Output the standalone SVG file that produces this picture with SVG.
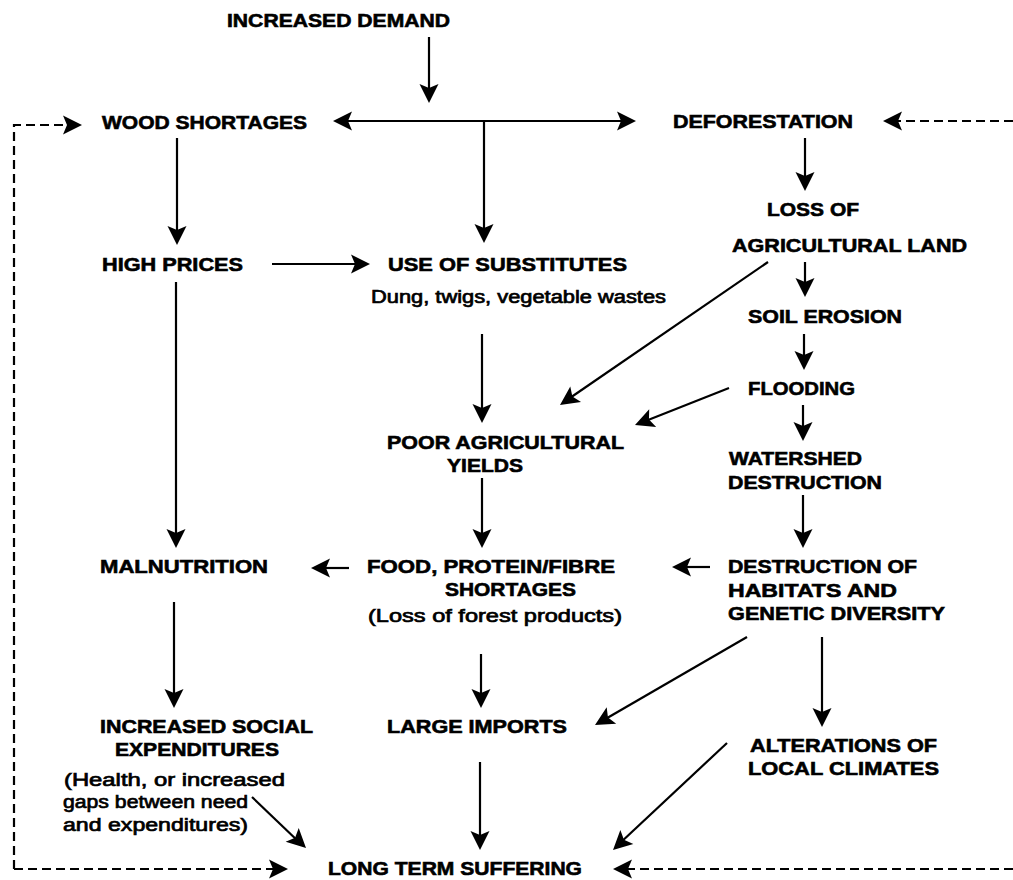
<svg xmlns="http://www.w3.org/2000/svg" xmlns:xlink="http://www.w3.org/1999/xlink" width="1013" height="880" viewBox="0 0 1013 880">
  <style>
    .t { font-family: "Liberation Sans", Arial, sans-serif; font-weight: bold; font-size: 19px; fill: #000; stroke: #000; stroke-width: 0.6; }
    .s { font-family: "Liberation Sans", Arial, sans-serif; font-weight: normal; font-size: 18px; fill: #000; stroke: #000; stroke-width: 0.7; }
    .c { fill: none; stroke: #000; stroke-width: 2.2; }
    .d { fill: none; stroke: #000; stroke-width: 2.2; stroke-dasharray: 9 5; }
    .h { fill: #000; }
  </style>
  <defs>
    <!-- arrowhead, tip at the origin, pointing along +x -->
    <path id="head" d="M0,0 L-19,-9.5 L-15,0 L-19,9.5 Z"/>
  </defs>
  <rect width="1013" height="880" fill="#fff"/>

  <!-- connectors -->
  <g id="connectors">
    <path class="c" d="M429,37 L429,95"/>
    <path class="c" d="M341,121 L628,121"/>
    <path class="c" d="M484,121 L484,235"/>
    <path class="c" d="M177,138 L177,237"/>
    <path class="c" d="M272,264 L362,264"/>
    <path class="c" d="M176,282 L176,540"/>
    <path class="c" d="M482,334 L482,415"/>
    <path class="c" d="M482,478 L482,540"/>
    <path class="c" d="M349,568 L319,568"/>
    <path class="c" d="M710,567 L680,567"/>
    <path class="c" d="M805,138 L805,183"/>
    <path class="c" d="M805,262 L805,289"/>
    <path class="c" d="M768,262 L567,400"/>
    <path class="c" d="M804,334 L804,362"/>
    <path class="c" d="M729,388 L643,422"/>
    <path class="c" d="M803,405 L803,433"/>
    <path class="c" d="M803,495 L803,540"/>
    <path class="c" d="M174,602 L174,700"/>
    <path class="c" d="M481,654 L481,700"/>
    <path class="c" d="M480,762 L480,842"/>
    <path class="c" d="M747,637 L602,721"/>
    <path class="c" d="M822,637 L822,719"/>
    <path class="c" d="M727,743 L619,844"/>
    <path class="c" d="M252,797 L300,843"/>
    <!-- feedback loops -->
    <path class="d" d="M14,869 L14,125 L74,125"/>
    <path class="d" d="M14,869 L280,869"/>
    <path class="d" d="M1013,121 L891,121"/>
    <path class="d" d="M1013,869 L621,869"/>

    <g class="h">
      <use xlink:href="#head" href="#head" transform="translate(429,103) rotate(90)"/>
      <use xlink:href="#head" href="#head" transform="translate(333,121) rotate(180)"/>
      <use xlink:href="#head" href="#head" transform="translate(636,121)"/>
      <use xlink:href="#head" href="#head" transform="translate(484,243) rotate(90)"/>
      <use xlink:href="#head" href="#head" transform="translate(177,245) rotate(90)"/>
      <use xlink:href="#head" href="#head" transform="translate(370,264)"/>
      <use xlink:href="#head" href="#head" transform="translate(176,548) rotate(90)"/>
      <use xlink:href="#head" href="#head" transform="translate(482,423) rotate(90)"/>
      <use xlink:href="#head" href="#head" transform="translate(482,548) rotate(90)"/>
      <use xlink:href="#head" href="#head" transform="translate(311,568) rotate(180)"/>
      <use xlink:href="#head" href="#head" transform="translate(672,567) rotate(180)"/>
      <use xlink:href="#head" href="#head" transform="translate(805,191) rotate(90)"/>
      <use xlink:href="#head" href="#head" transform="translate(805,297) rotate(90)"/>
      <use xlink:href="#head" href="#head" transform="translate(560,405) rotate(145.5)"/>
      <use xlink:href="#head" href="#head" transform="translate(804,370) rotate(90)"/>
      <use xlink:href="#head" href="#head" transform="translate(635,425) rotate(158.5)"/>
      <use xlink:href="#head" href="#head" transform="translate(803,441) rotate(90)"/>
      <use xlink:href="#head" href="#head" transform="translate(803,548) rotate(90)"/>
      <use xlink:href="#head" href="#head" transform="translate(174,708) rotate(90)"/>
      <use xlink:href="#head" href="#head" transform="translate(481,708) rotate(90)"/>
      <use xlink:href="#head" href="#head" transform="translate(480,850) rotate(90)"/>
      <use xlink:href="#head" href="#head" transform="translate(595,725) rotate(149.9)"/>
      <use xlink:href="#head" href="#head" transform="translate(822,727) rotate(90)"/>
      <use xlink:href="#head" href="#head" transform="translate(613,850) rotate(136.8)"/>
      <use xlink:href="#head" href="#head" transform="translate(306,848) rotate(43.4)"/>
      <use xlink:href="#head" href="#head" transform="translate(82,125)"/>
      <use xlink:href="#head" href="#head" transform="translate(288,869)"/>
      <use xlink:href="#head" href="#head" transform="translate(883,121) rotate(180)"/>
      <use xlink:href="#head" href="#head" transform="translate(613,869) rotate(180)"/>
    </g>
  </g>

  <!-- nodes -->
  <g id="increased-demand"><text class="t" x="227" y="27" textLength="223" lengthAdjust="spacingAndGlyphs">INCREASED DEMAND</text></g>
  <g id="wood-shortages"><text class="t" x="102" y="129" textLength="205" lengthAdjust="spacingAndGlyphs">WOOD SHORTAGES</text></g>
  <g id="deforestation"><text class="t" x="673" y="128" textLength="180" lengthAdjust="spacingAndGlyphs">DEFORESTATION</text></g>
  <g id="loss-of-land">
    <text class="t" x="767" y="216" textLength="92" lengthAdjust="spacingAndGlyphs">LOSS OF</text>
    <text class="t" x="732" y="252" textLength="235" lengthAdjust="spacingAndGlyphs">AGRICULTURAL LAND</text>
  </g>
  <g id="high-prices"><text class="t" x="102" y="271" textLength="141" lengthAdjust="spacingAndGlyphs">HIGH PRICES</text></g>
  <g id="use-of-substitutes">
    <text class="t" x="388" y="271" textLength="239" lengthAdjust="spacingAndGlyphs">USE OF SUBSTITUTES</text>
    <text class="s" x="371" y="303" textLength="295" lengthAdjust="spacingAndGlyphs">Dung, twigs, vegetable wastes</text>
  </g>
  <g id="soil-erosion"><text class="t" x="748" y="323" textLength="154" lengthAdjust="spacingAndGlyphs">SOIL EROSION</text></g>
  <g id="flooding"><text class="t" x="748" y="395" textLength="107" lengthAdjust="spacingAndGlyphs">FLOODING</text></g>
  <g id="poor-yields">
    <text class="t" x="387" y="449" textLength="237" lengthAdjust="spacingAndGlyphs">POOR AGRICULTURAL</text>
    <text class="t" x="447" y="472" textLength="76" lengthAdjust="spacingAndGlyphs">YIELDS</text>
  </g>
  <g id="watershed">
    <text class="t" x="729" y="465" textLength="133" lengthAdjust="spacingAndGlyphs">WATERSHED</text>
    <text class="t" x="728" y="489" textLength="154" lengthAdjust="spacingAndGlyphs">DESTRUCTION</text>
  </g>
  <g id="malnutrition"><text class="t" x="100" y="573" textLength="168" lengthAdjust="spacingAndGlyphs">MALNUTRITION</text></g>
  <g id="food-shortages">
    <text class="t" x="367" y="573" textLength="248" lengthAdjust="spacingAndGlyphs">FOOD, PROTEIN/FIBRE</text>
    <text class="t" x="445" y="596" textLength="131" lengthAdjust="spacingAndGlyphs">SHORTAGES</text>
    <text class="s" x="368" y="622" textLength="254" lengthAdjust="spacingAndGlyphs">(Loss of forest products)</text>
  </g>
  <g id="habitat-destruction">
    <text class="t" x="728" y="573" textLength="189" lengthAdjust="spacingAndGlyphs">DESTRUCTION OF</text>
    <text class="t" x="728" y="597" textLength="169" lengthAdjust="spacingAndGlyphs">HABITATS AND</text>
    <text class="t" x="728" y="620" textLength="217" lengthAdjust="spacingAndGlyphs">GENETIC DIVERSITY</text>
  </g>
  <g id="social-expenditures">
    <text class="t" x="100" y="733" textLength="213" lengthAdjust="spacingAndGlyphs">INCREASED SOCIAL</text>
    <text class="t" x="115" y="756" textLength="164" lengthAdjust="spacingAndGlyphs">EXPENDITURES</text>
    <text class="s" x="64" y="786" textLength="221" lengthAdjust="spacingAndGlyphs">(Health, or increased</text>
    <text class="s" x="63" y="808" textLength="185" lengthAdjust="spacingAndGlyphs">gaps between need</text>
    <text class="s" x="63" y="831" textLength="185" lengthAdjust="spacingAndGlyphs">and expenditures)</text>
  </g>
  <g id="large-imports"><text class="t" x="387" y="733" textLength="180" lengthAdjust="spacingAndGlyphs">LARGE IMPORTS</text></g>
  <g id="local-climates">
    <text class="t" x="750" y="752" textLength="187" lengthAdjust="spacingAndGlyphs">ALTERATIONS OF</text>
    <text class="t" x="748" y="775" textLength="191" lengthAdjust="spacingAndGlyphs">LOCAL CLIMATES</text>
  </g>
  <g id="long-term-suffering"><text class="t" x="328" y="875" textLength="254" lengthAdjust="spacingAndGlyphs">LONG TERM SUFFERING</text></g>
</svg>
